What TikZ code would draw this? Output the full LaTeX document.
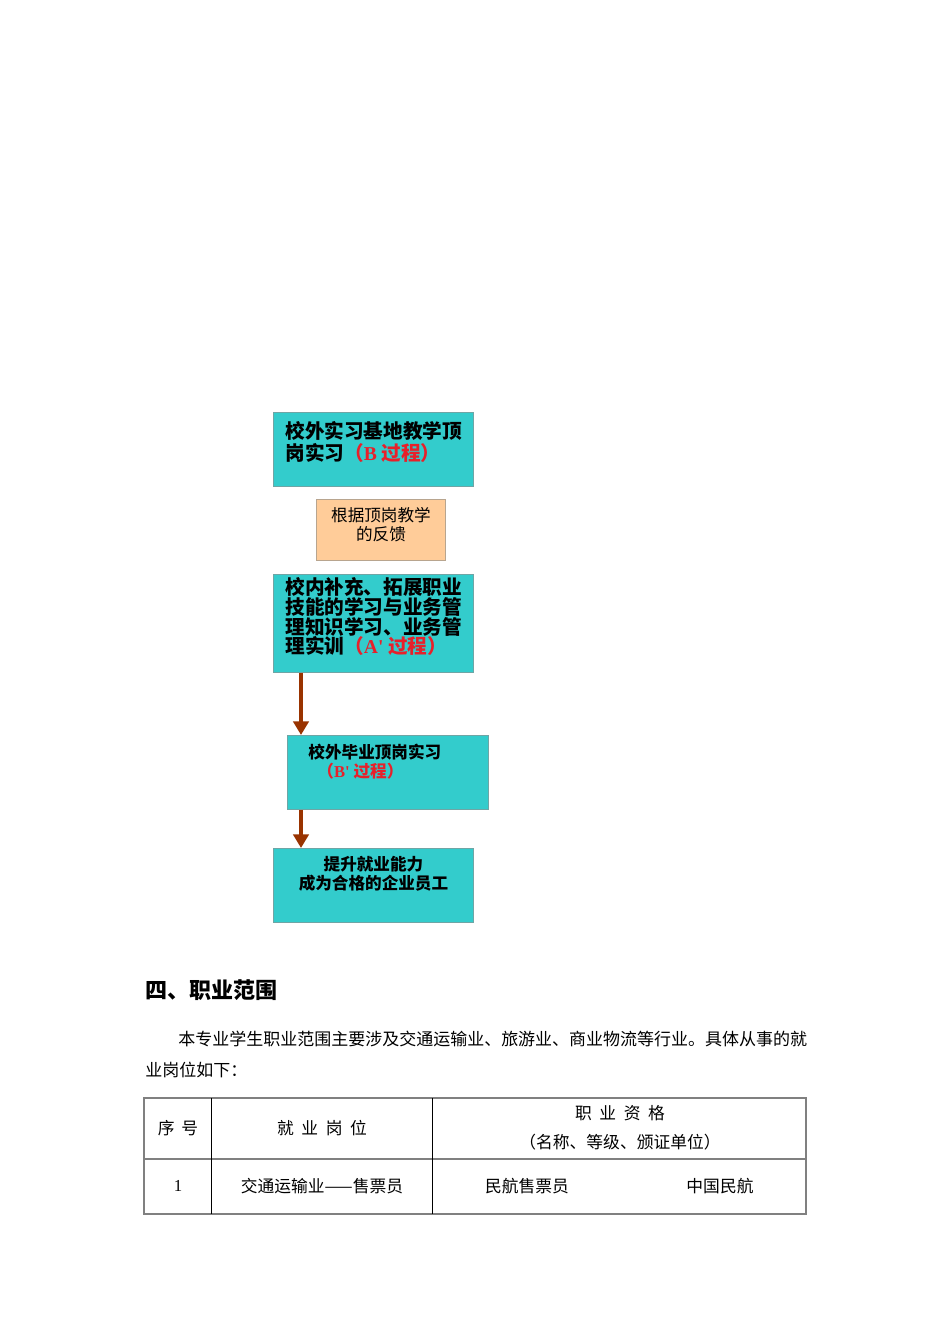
\documentclass[tikz,border=0pt]{standalone}
\usepackage{fontspec}
\setmainfont{Noto Sans CJK SC}
\newfontfamily\latin{Liberation Serif}
\usepackage{xcolor}
\usetikzlibrary{positioning,arrows.meta,calc}
\definecolor{boxcyan}{HTML}{33CCCC}
\definecolor{boxline}{HTML}{6FA5A5}
\definecolor{boxorange}{HTML}{FFCC99}
\definecolor{orangeline}{HTML}{B8A58F}
\definecolor{arrowred}{HTML}{993300}
\definecolor{procred}{HTML}{E8202A}
\definecolor{tablegray}{HTML}{808080}
\newlength\pxu
\setlength\pxu{0.6266pt}
\tikzset{
  cbox/.style={draw=boxline, fill=boxcyan, line width=0.6pt, inner sep=0pt, anchor=north west},
  obox/.style={draw=orangeline, fill=boxorange, line width=0.6pt, inner sep=0pt, anchor=north west},
  arr/.style={draw=arrowred, line width=2.4pt, -{Triangle[length=8.5pt, width=9.5pt]}},
  txt/.style={inner sep=0pt, font=\fontsize{10.5}{12}\selectfont},
}
\begin{document}
\begin{tikzpicture}[x=\pxu, y=-\pxu]
  % page area
  \useasboundingbox[fill=white] (0,0) rectangle (950,1344);

  % flow of the process
  \node[cbox] (b1) at (273,412) {\parbox[c][74\pxu][t]{200\pxu}{\vspace*{9\pxu}%
    \leftskip=12\pxu\fontsize{12.3}{13.8}\selectfont\bfseries
    校外实习基地教学顶\\岗实习\textcolor{procred}{（{\latin B} 过程）}}};
  \node[obox] (b2) at (316,499) {\parbox[c][61\pxu][t]{129\pxu}{\vspace*{8\pxu}%
    \centering\fontsize{10.4}{11.9}\selectfont
    根据顶岗教学\\的反馈}};
  \node[cbox] (b3) at (273,574) {\parbox[c][98\pxu][t]{200\pxu}{\vspace*{3\pxu}%
    \leftskip=12\pxu\lineskiplimit=-10pt\fontsize{12.3}{12.4}\selectfont\bfseries
    校内补充、拓展职业\\技能的学习与业务管\\理知识学习、业务管\\理实训\textcolor{procred}{（{\latin A'} 过程）}}};
  \node[cbox] (b4) at (287,735) {\parbox[c][74\pxu][t]{201\pxu}{\vspace*{9\pxu}%
    \leftskip=21\pxu\fontsize{10.4}{11.5}\selectfont\bfseries
    校外毕业顶岗实习\\\hspace*{9\pxu}\textcolor{procred}{（{\latin B'} 过程）}}};
  \node[cbox] (b5) at (273,848) {\parbox[c][74\pxu][t]{200\pxu}{\vspace*{8\pxu}%
    \centering\fontsize{10.4}{11.9}\selectfont\bfseries
    提升就业能力\\成为合格的企业员工}};

  \draw[arr] ($(b3.south west)+(28,0)$) -- ($(b3.south west |- b4.north)+(28,0)$);
  \draw[arr] ($(b4.south west)+(14,0)$) -- ($(b4.south west |- b5.north)+(14,0)$);

  % section heading and text
  \node[txt, anchor=west, font=\fontsize{13.8}{16}\selectfont\bfseries] (head) at (145,990) {四、职业范围};
  \node[txt, anchor=north west, align=left, font=\fontsize{10.65}{19.4}\selectfont] (para) at (145,1031)
    {\hspace*{33\pxu}本专业学生职业范围主要涉及交通运输业、旅游业、商业物流等行业。具体从事的就\\业岗位如下：};

  % table
  \draw[tablegray, line width=1pt] (144,1098) rectangle (806,1214);
  \draw[tablegray, line width=1pt] (144,1159) -- (806,1159);
  \draw[black, line width=0.5pt] (211,1098) -- (211,1214);
  \draw[black, line width=0.5pt] (432,1098) -- (432,1214);
  \node[txt] (h1) at (178,1128) {序\hspace{0.4em}号};
  \node[txt] (h2) at (322,1128) {就\hspace{0.45em}业\hspace{0.45em}岗\hspace{0.45em}位};
  \node[txt] (h3) at (620,1113) {职\hspace{0.45em}业\hspace{0.45em}资\hspace{0.45em}格};
  \node[txt] (h4) at (620,1142) {（名称、等级、颁证单位）};
  \node[txt] (c1) at (178,1186) {\latin 1};
  \node[txt] (c2) at (322,1186) {交通运输业——售票员};
  \node[txt] (c3) at (527,1186) {民航售票员};
  \node[txt] (c4) at (720,1186) {中国民航};
\end{tikzpicture}
\end{document}
